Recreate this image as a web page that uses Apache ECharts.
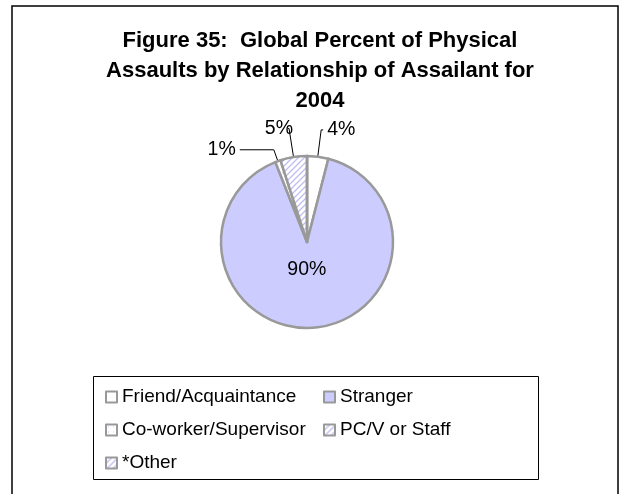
<!DOCTYPE html>
<html>
<head>
<meta charset="utf-8">
<script src="https://cdn.jsdelivr.net/npm/echarts@6/dist/echarts.min.js"></script>
<style>
  html, body { margin: 0; padding: 0; background: #fff; }
  #chart { width: 621px; height: 494px; }
</style>
</head>
<body>
<div id="chart"></div>
<script>
// Assault shares by relationship of assailant, 2004 (percent)
const categories = ['Friend/Acquaintance', 'Stranger', 'Co-worker/Supervisor', 'PC/V or Staff', '*Other'];
const percents = [4, 90, 1, 5, 0];
const titleLines = ['Figure 35:  Global Percent of Physical', 'Assaults by Relationship of Assailant for', '2004'];

// Small repeating fills for the patterned slices
function hatchPattern() {
  const c = document.createElement('canvas');
  c.width = 6; c.height = 6;
  const g = c.getContext('2d');
  g.fillStyle = '#ffffff';
  g.fillRect(0, 0, 6, 6);
  g.strokeStyle = '#bdbdf2';
  g.lineWidth = 1.3;
  g.beginPath();
  g.moveTo(0, 6); g.lineTo(6, 0);
  g.moveTo(-1, 1); g.lineTo(1, -1);
  g.moveTo(5, 7); g.lineTo(7, 5);
  g.stroke();
  return { image: c, repeat: 'repeat' };
}
function dotPattern() {
  const c = document.createElement('canvas');
  c.width = 5; c.height = 5;
  const g = c.getContext('2d');
  g.fillStyle = '#ffffff';
  g.fillRect(0, 0, 5, 5);
  g.fillStyle = '#d0d0f4';
  g.fillRect(2, 2, 1, 1);
  return { image: c, repeat: 'repeat' };
}

const fills = ['#ffffff', '#ccccff', dotPattern(), hatchPattern(), hatchPattern()];
const FONT = '"Liberation Sans", Arial, sans-serif';

// Leader-line geometry for the outside labels
const lineLen = [27, 0, 12, 29, 0];
const lineLen2 = [2, 0, 34, 1, 0];

const data = categories.map((name, i) => {
  const item = {
    name: name,
    value: percents[i],
    itemStyle: { color: fills[i] }
  };
  if (i === 1) {
    item.label = { position: 'inside' };
    item.labelLine = { show: false };
  } else if (percents[i] === 0) {
    item.label = { show: false };
    item.labelLine = { show: false };
  } else {
    item.label = { position: 'outside' };
    item.labelLine = { show: true, length: lineLen[i], length2: lineLen2[i] };
  }
  return item;
});

const chart = echarts.init(document.getElementById('chart'), null, { renderer: 'canvas' });

chart.setOption({
  animation: false,
  backgroundColor: '#ffffff',
  title: {
    text: titleLines.join('\n'),
    left: 315,
    textAlign: 'center',
    top: 21,
    textStyle: {
      fontFamily: FONT,
      fontSize: 22,
      fontWeight: 'bold',
      lineHeight: 30,
      color: '#000'
    }
  },
  legend: {
    left: 100,
    top: 381,
    width: 480,
    orient: 'horizontal',
    icon: 'rect',
    itemWidth: 11,
    itemHeight: 11,
    itemGap: 11,
    selectedMode: false,
    itemStyle: { borderColor: '#999999', borderWidth: 2 },
    textStyle: {
      fontFamily: FONT,
      fontSize: 19,
      color: '#000',
      width: 190,
      lineHeight: 22
    },
    data: categories
  },
  graphic: [
    {
      type: 'rect',
      shape: { x: 12, y: 6, width: 606, height: 600 },
      style: { fill: 'none', stroke: '#000', lineWidth: 1.5 },
      silent: true
    },
    {
      type: 'rect',
      shape: { x: 93.5, y: 376.5, width: 445, height: 103 },
      style: { fill: 'none', stroke: '#000', lineWidth: 1 },
      silent: true
    }
  ],
  series: [{
    type: 'pie',
    center: [307, 242],
    radius: 86,
    startAngle: 90,
    clockwise: true,
    avoidLabelOverlap: false,
    itemStyle: { borderColor: '#999999', borderWidth: 2.5 },
    label: {
      formatter: '{c}%',
      fontFamily: FONT,
      fontSize: 19.5,
      color: '#000',
      distanceToLabelLine: 4
    },
    labelLine: { lineStyle: { color: '#000', width: 1 } },
    labelLayout: function (p) {
      if (p.dataIndex === 1) return { dx: -3, dy: -18 };
      if (p.dataIndex === 3) return { dx: 9 };
      return {};
    },
    emphasis: { disabled: true },
    data: data
  }]
});
</script>
</body>
</html>
